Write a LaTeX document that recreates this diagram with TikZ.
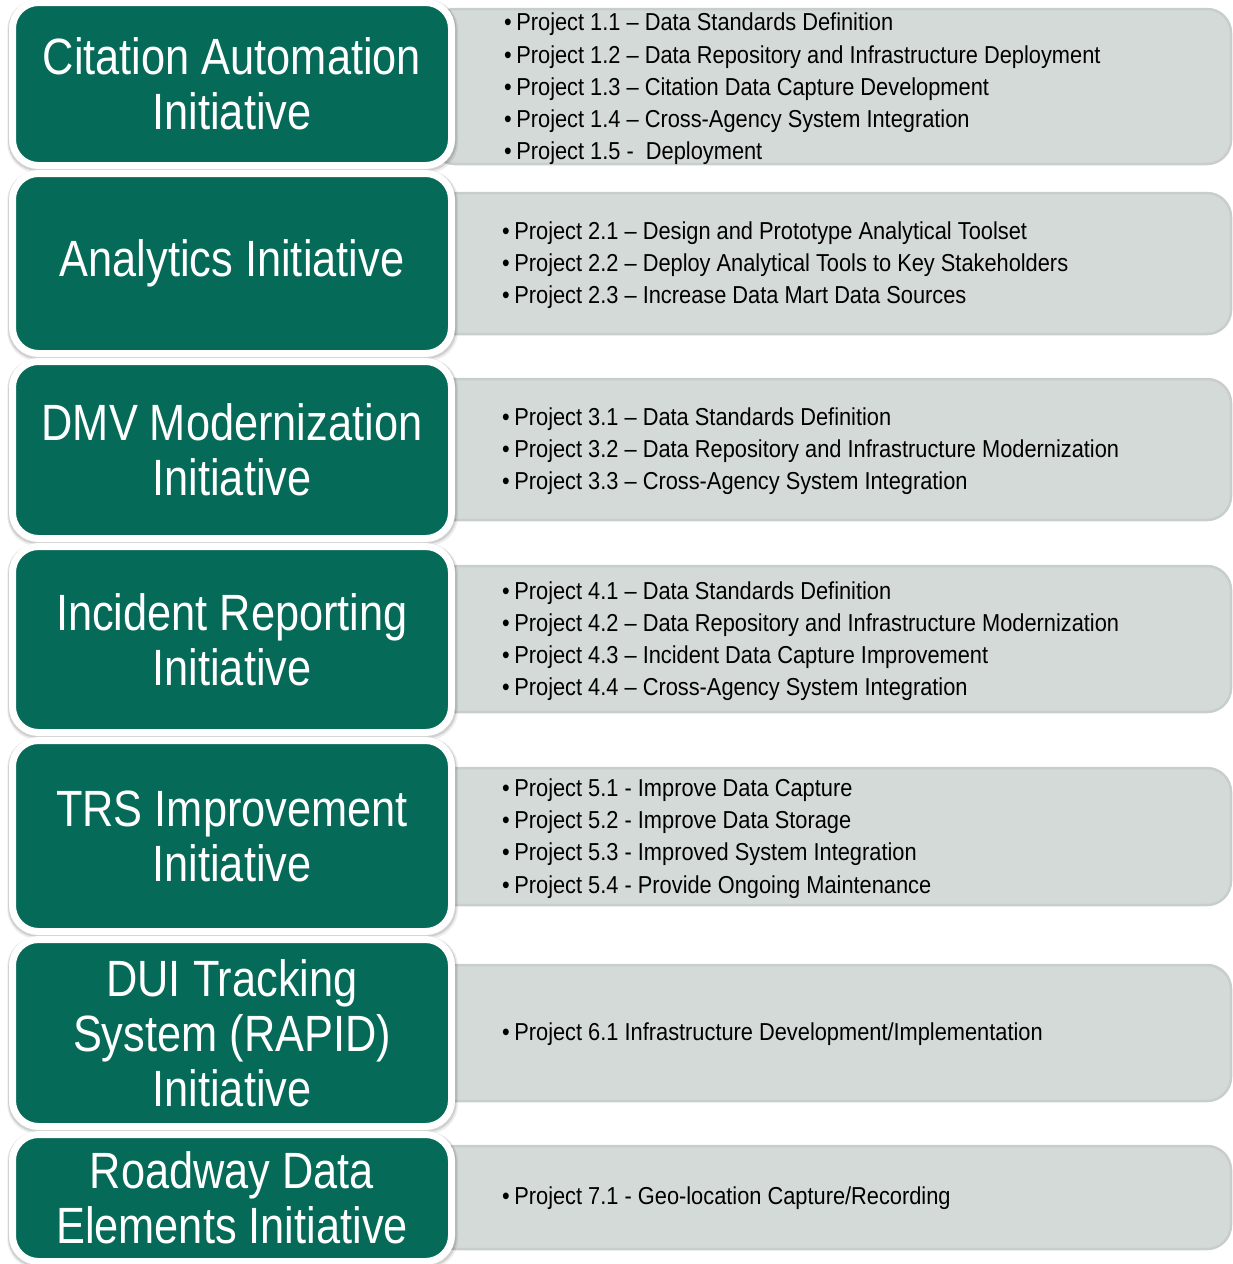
\documentclass[tikz,border=0pt]{standalone}
\usepackage{fontspec}
\setmainfont[FakeStretch=0.82]{Liberation Sans}
\newfontfamily\titlefont[FakeStretch=0.85]{Liberation Sans}
\newfontfamily\bodyfont[FakeStretch=0.89]{Liberation Sans}
\usetikzlibrary{calc}
\pgfdeclarelayer{back}
\pgfdeclarelayer{shade}
\pgfsetlayers{back,shade,main}
\definecolor{initgreen}{RGB}{5,106,87}
\definecolor{projfill}{RGB}{212,218,216}
\definecolor{projline}{RGB}{200,206,204}
\tikzset{
  initbox/.style={rounded corners=26pt, fill=initgreen, draw=white, line width=7pt,
    minimum width=439pt, inner sep=0pt, outer sep=0pt, align=center, text=white,
    font=\titlefont\fontsize{51}{55}\selectfont},
  projbox/.style={rounded corners=24pt, fill=projfill, draw=projline, line width=2.5pt,
    minimum width=800pt, inner sep=0pt, outer sep=0pt},
  projtext/.style={anchor=west, align=left, inner sep=0pt, text=black,
    font=\bodyfont\fontsize{24.5}{32.2}\selectfont},
  softshadeA/.style={fill=black, opacity=0.07, rounded corners=30pt},
  softshadeB/.style={fill=black, opacity=0.12, rounded corners=29pt}
}
\newcommand{\bl}{\textbullet\hspace{4.5pt}}
\begin{document}
\begin{tikzpicture}[x=1pt,y=-1pt]
\useasboundingbox (0,0) rectangle (1233,1264);
% project boxes
\begin{pgfonlayer}{back}
\node[projbox, minimum height=155pt] (g1) at (831,86.5) {};
\node[projbox, minimum height=141pt] (g2) at (831,263.5) {};
\node[projbox, minimum height=141pt] (g3) at (831,449.5) {};
\node[projbox, minimum height=146pt] (g4) at (831,639) {};
\node[projbox, minimum height=137pt] (g5) at (831,836.5) {};
\node[projbox, minimum height=136pt] (g6) at (831,1033) {};
\node[projbox, minimum height=103pt] (g7) at (831,1197.5) {};
\end{pgfonlayer}
% initiative boxes
\node[initbox, minimum height=163pt] (i1) at (232,84) {Citation Automation\\Initiative};
\node[initbox, minimum height=180pt] (i2) at (232,263.5) {Analytics Initiative};
\node[initbox, minimum height=177pt] (i3) at (232,450) {DMV Modernization\\Initiative};
\node[initbox, minimum height=186pt] (i4) at (232,639.5) {Incident Reporting\\Initiative};
\node[initbox, minimum height=191pt] (i5) at (232,836) {TRS Improvement\\Initiative};
\node[initbox, minimum height=187pt] (i6) at (232,1033) {DUI Tracking\\System (RAPID)\\Initiative};
\node[initbox, minimum height=127pt] (i7) at (232,1198) {Roadway Data\\Elements Initiative};
% shadows of initiative boxes
\begin{pgfonlayer}{shade}
\foreach \n in {i1,i2,i3,i4,i5,i6,i7}{
  \fill[softshadeA] ($(\n.north west)+(-5.2,-3)$) rectangle ($(\n.south east)+(6.5,7.5)$);
  \fill[softshadeB] ($(\n.north west)+(-4.3,-2.5)$) rectangle ($(\n.south east)+(5,5.5)$);
}
\end{pgfonlayer}
% project texts
\node[projtext] (t1) at (504,89) {\bl Project 1.1 – Data Standards Definition\\
\bl Project 1.2 – Data Repository and Infrastructure Deployment\\
\bl Project 1.3 – Citation Data Capture Development\\
\bl Project 1.4 – Cross-Agency System Integration\\
\bl Project 1.5 -\ \ Deployment};
\node[projtext] (t2) at (502,265) {\bl Project 2.1 – Design and Prototype Analytical Toolset\\
\bl Project 2.2 – Deploy Analytical Tools to Key Stakeholders\\
\bl Project 2.3 – Increase Data Mart Data Sources};
\node[projtext] (t3) at (502,451) {\bl Project 3.1 – Data Standards Definition\\
\bl Project 3.2 – Data Repository and Infrastructure Modernization\\
\bl Project 3.3 – Cross-Agency System Integration};
\node[projtext] (t4) at (502,641) {\bl Project 4.1 – Data Standards Definition\\
\bl Project 4.2 – Data Repository and Infrastructure Modernization\\
\bl Project 4.3 – Incident Data Capture Improvement\\
\bl Project 4.4 – Cross-Agency System Integration};
\node[projtext] (t5) at (502,838.5) {\bl Project 5.1 - Improve Data Capture\\
\bl Project 5.2 - Improve Data Storage\\
\bl Project 5.3 - Improved System Integration\\
\bl Project 5.4 - Provide Ongoing Maintenance};
\node[projtext] (t6) at (502,1034.5) {\bl Project 6.1 Infrastructure Development/Implementation};
\node[projtext] (t7) at (502,1198.5) {\bl Project 7.1 - Geo-location Capture/Recording};
\end{tikzpicture}
\end{document}
